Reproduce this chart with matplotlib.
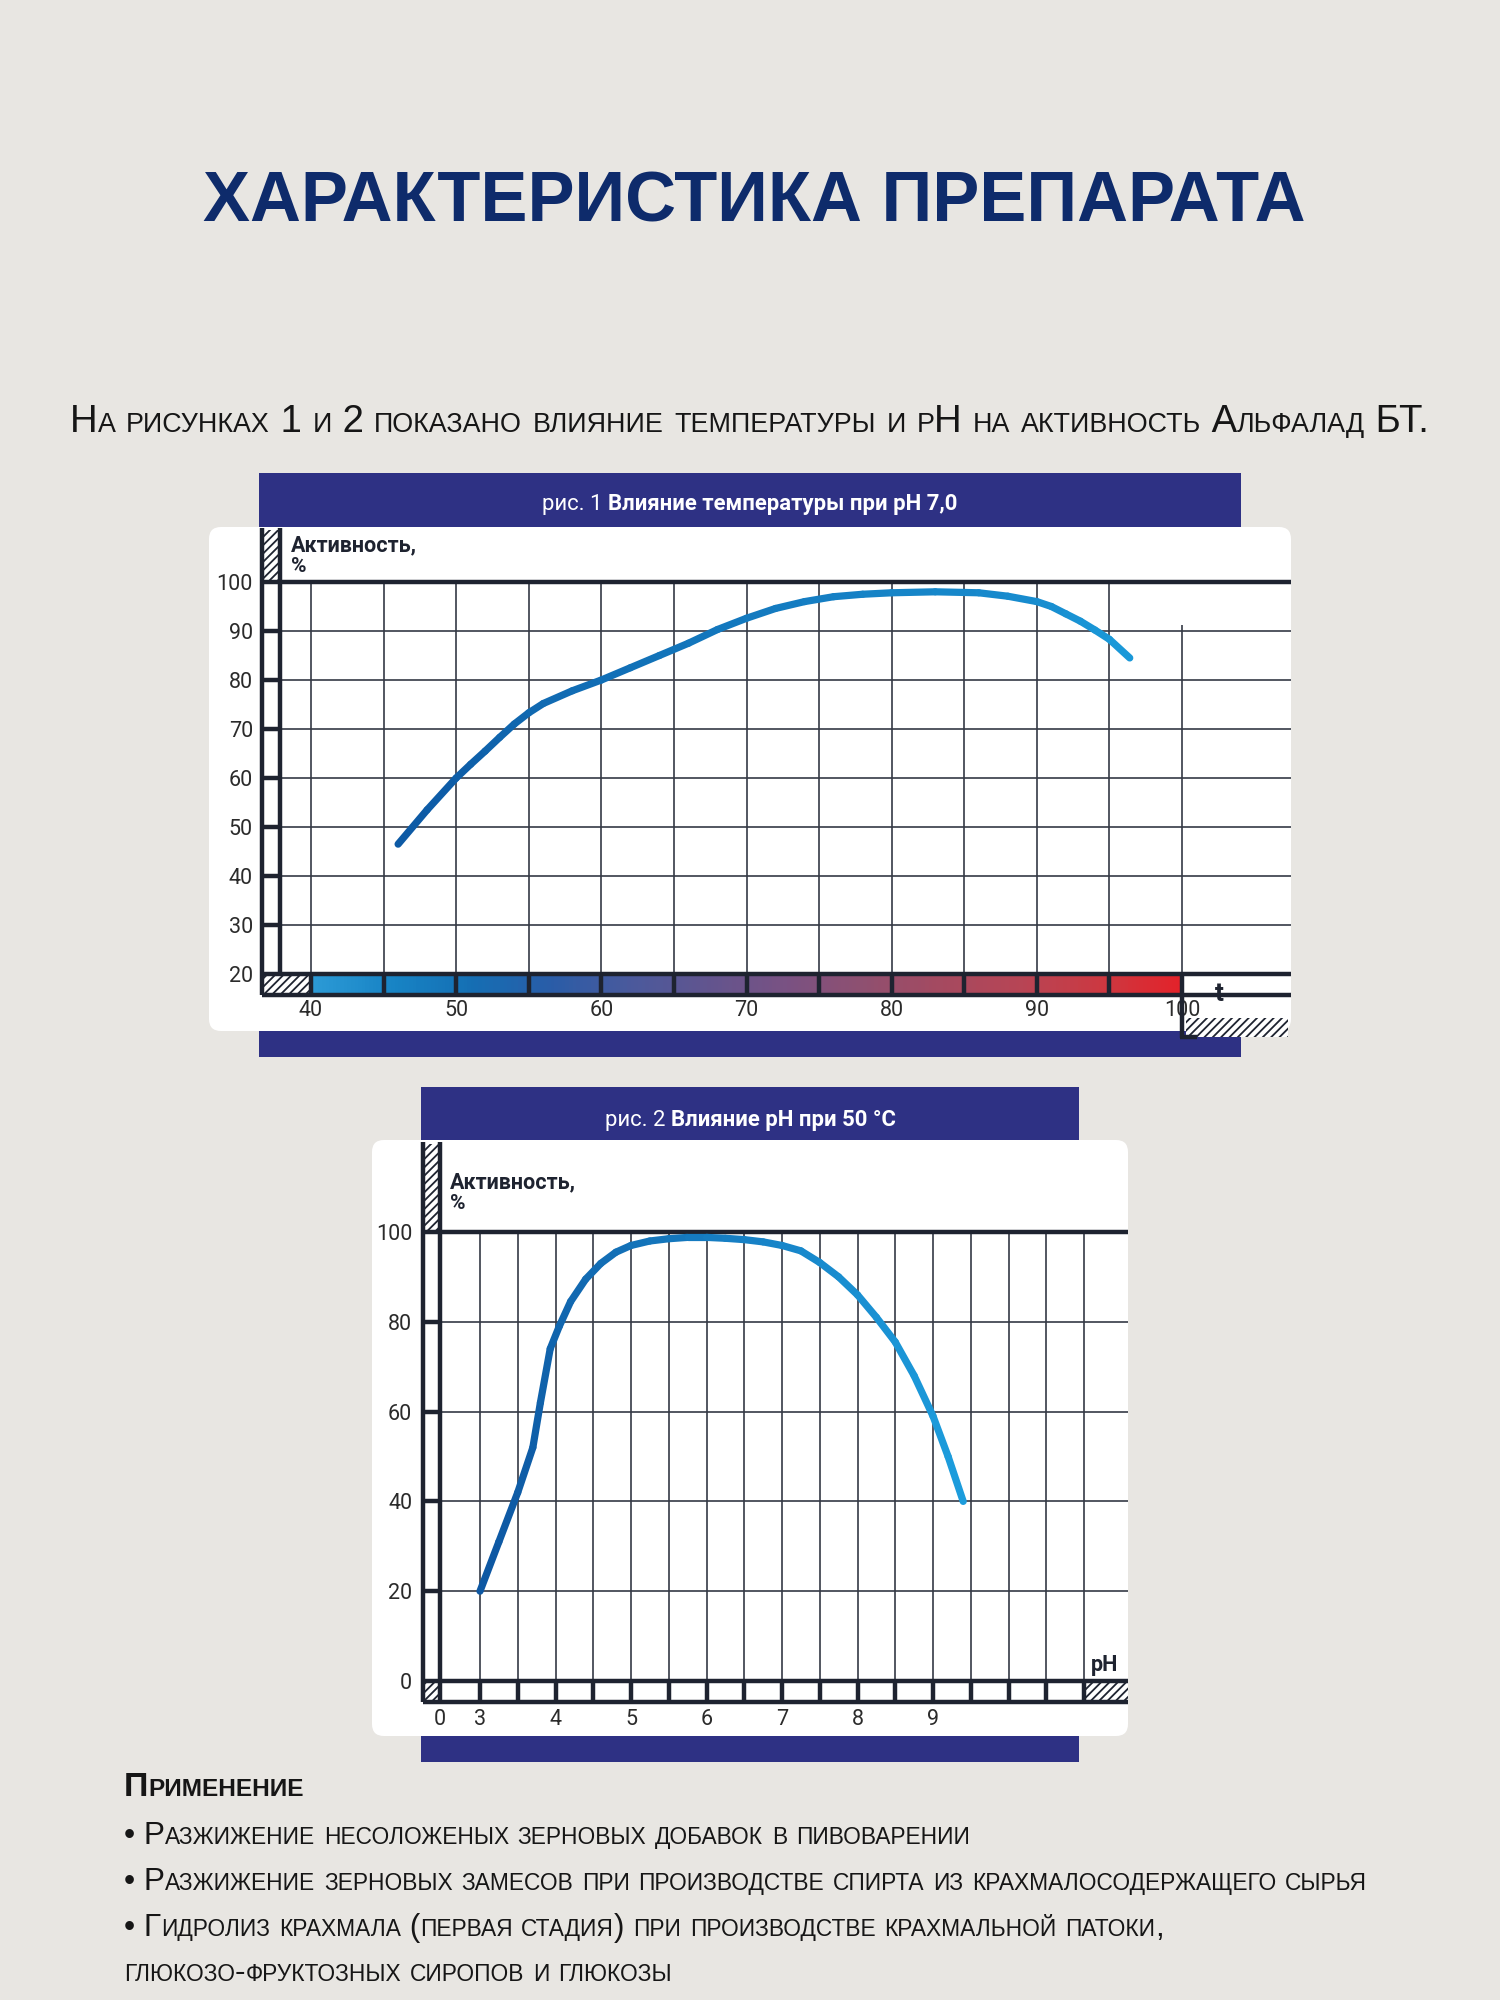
import matplotlib
matplotlib.use('Agg')
import matplotlib.pyplot as plt
import numpy as np
import matplotlib.transforms as mtransforms
from matplotlib import font_manager as fm
from matplotlib.font_manager import FontProperties
from matplotlib.patches import Rectangle, FancyBboxPatch
from matplotlib.collections import LineCollection
from matplotlib.colors import LinearSegmentedColormap

# ---- data ----
# fig. 1: activity vs temperature (pH 7.0)
temp_c = [46, 48, 50, 51, 52, 53, 54, 55, 56, 58, 60, 62, 64, 66, 68, 70, 72, 74, 76,
          78, 80, 83, 86, 88, 90, 91, 92, 93, 94, 95, 96.4]
temp_activity = [46.5, 53.5, 60, 62.8, 65.5, 68.3, 71, 73.3, 75.2, 77.8, 80, 82.5, 85, 87.5,
                 90.3, 92.6, 94.6, 96, 97, 97.5, 97.8, 98, 97.8, 97.1, 96, 95, 93.5, 92,
                 90.2, 88.3, 84.5]
temp_ticks = [40, 50, 60, 70, 80, 90, 100]
temp_grid = [40, 45, 50, 55, 60, 65, 70, 75, 80, 85, 90, 95, 100]
act_ticks1 = [20, 30, 40, 50, 60, 70, 80, 90, 100]
# colour of the temperature scale cells 40-45 ... 95-100
bar_colors = ['#2C9AD6', '#1884C5', '#156FB4', '#2A5DA8', '#4A5A9D', '#62558F',
              '#7A5283', '#905070', '#A64A60', '#B84555', '#CC3942', '#E4232B']

# fig. 2: activity vs pH (50 °C)
ph_values = [3.0, 3.25, 3.5, 3.7, 3.8, 3.93, 4.05, 4.2, 4.4, 4.6, 4.8, 5.0, 5.25, 5.5,
             5.75, 6.0, 6.25, 6.5, 6.75, 7.0, 7.25, 7.5, 7.75, 8.0, 8.25, 8.5, 8.75,
             9.0, 9.2, 9.4]
ph_activity = [20, 31, 42, 52, 62, 74, 79, 84.5, 89.5, 93, 95.5, 97, 98, 98.5, 98.8,
               98.8, 98.6, 98.3, 97.8, 97, 95.8, 93.2, 90, 86, 81, 75.5, 68, 59, 50, 40]
ph_ticks = [3, 4, 5, 6, 7, 8, 9]
ph_grid = [3, 3.5, 4, 4.5, 5, 5.5, 6, 6.5, 7, 7.5, 8, 8.5, 9, 9.5, 10, 10.5, 11]
act_ticks2 = [0, 20, 40, 60, 80, 100]

TITLE = 'ХАРАКТЕРИСТИКА ПРЕПАРАТА'
SUBTITLE = 'На рисунках 1 и 2 показано влияние температуры и pН на активность Альфалад БТ.'
HEAD1 = ('рис. 1 ', 'Влияние температуры при pH 7,0')
HEAD2 = ('рис. 2 ', 'Влияние pH при 50 °C')
USE_TITLE = 'Применение'
USE_LINES = ['• Разжижение несоложеных зерновых добавок в пивоварении',
             '• Разжижение зерновых замесов при производстве спирта из крахмалосодержащего сырья',
             '• Гидролиз крахмала (первая стадия) при производстве крахмальной патоки,',
             'глюкозо-фруктозных сиропов и глюкозы']

# ---- colours ----
BG = '#E8E6E2'
NAVY = '#2E3184'
TITLE_C = '#0E2B6B'
DARK = '#1E2330'
GRID = '#353945'
TXT = '#161616'

plt.rcParams['hatch.color'] = DARK
plt.rcParams['hatch.linewidth'] = 1.3

avail = {f.name for f in fm.fontManager.ttflist}
NARROW = [f for f in ['Liberation Sans Narrow', 'Liberation Sans'] if f in avail][:1] + ['DejaVu Sans']
GEO = ['Roboto', 'DejaVu Sans']

W, H = 1500, 2000
fig = plt.figure(figsize=(15, 20), dpi=100)
fig.patch.set_facecolor(BG)
bg = fig.add_axes([0, 0, 1, 1])
bg.set_xlim(0, W)
bg.set_ylim(H, 0)
bg.axis('off')
PX = bg.transData
renderer = fig.canvas.get_renderer()


def tw(s, fp):
    a = renderer.get_text_width_height_descent('|' + s + '|', fp, ismath=False)[0]
    b = renderer.get_text_width_height_descent('||', fp, ismath=False)[0]
    return a - b


def smallcaps(x, y, s, size, weight='normal', ratio=0.72, target=None):
    runs = []
    for ch in s:
        big = not ch.islower()
        t = ch if big else ch.upper()
        if runs and runs[-1][1] == big:
            runs[-1][0] += t
        else:
            runs.append([t, big])

    def fp(sz, big):
        return FontProperties(family=NARROW, weight=weight, size=sz if big else sz * ratio)
    if target:
        total = sum(tw(r, fp(size, b)) for r, b in runs)
        size = size * target / total
    cx = x
    for r, b in runs:
        p = fp(size, b)
        bg.text(cx, y, r, fontproperties=p, color=TXT, ha='left', va='baseline')
        cx += tw(r, p)
    return size


def add_ax(x0, y0, x1, y1):
    ax = fig.add_axes([x0 / W, 1 - y1 / H, (x1 - x0) / W, (y1 - y0) / H])
    ax.patch.set_alpha(0)
    for sp in ax.spines.values():
        sp.set_visible(False)
    return ax


def pline(ax, xs, ys, lw=3.2):
    ax.plot(xs, ys, color=DARK, lw=lw, transform=PX, clip_on=False, solid_capstyle='butt',
            zorder=4)


def hatchbox(ax, x, y, w, h):
    ax.add_patch(Rectangle((x, y), w, h, transform=PX, fc='white', ec=DARK, lw=0,
                           hatch='////', clip_on=False, zorder=2))


def header(cx, base, parts, size):
    fl = FontProperties(family=GEO, weight='normal', size=size)
    fb = FontProperties(family=GEO, weight='bold', size=size)
    wl, wb = tw(parts[0], fl), tw(parts[1], fb)
    x = cx - (wl + wb) / 2
    bg.text(x, base, parts[0], fontproperties=fl, color='white', va='baseline')
    bg.text(x + wl, base, parts[1], fontproperties=fb, color='white', va='baseline')


def gradient_line(ax, x, y, c0, c1, lw=5):
    pts = np.column_stack([x, y])
    segs = np.stack([pts[:-1], pts[1:]], axis=1)
    cmap = LinearSegmentedColormap.from_list('c', [c0, c1])
    cols = cmap(np.linspace(0, 1, len(segs)))
    ax.add_collection(LineCollection(segs, colors=cols, linewidths=lw,
                                     capstyle='round', joinstyle='round', zorder=5))


tick_fp = dict(family=GEO, weight='normal', size=15.5)
TICK_C = '#2B2B2B'

# ---- title and subtitle ----
fpt = FontProperties(family=NARROW, weight='bold', size=50)
tsize = 50 * 1104 / tw(TITLE, fpt)
bg.text(754, 221, TITLE, ha='center', va='baseline', color=TITLE_C,
        fontproperties=FontProperties(family=NARROW, weight='bold', size=tsize))
smallcaps(70, 432, SUBTITLE, 28, ratio=0.70, target=1359)

# ---- header font size ----
hs = 14 * 418 / (tw(HEAD1[0], FontProperties(family=GEO, weight='normal', size=14)) +
                 tw(HEAD1[1], FontProperties(family=GEO, weight='bold', size=14)))

# =============== chart 1 ===============
bg.add_patch(Rectangle((259, 473), 982, 584, fc=NAVY, lw=0))
bg.add_patch(FancyBboxPatch((209, 527), 1082, 504, boxstyle='round,pad=0,rounding_size=12',
                            fc='white', ec='none'))
header(750, 510, HEAD1, hs)

X40, X100 = 311, 1182
kx1 = (X100 - X40) / 60.0
ax1 = add_ax(280, 582, 1291, 974)
xl1 = (40 + (280 - X40) / kx1, 40 + (1291 - X40) / kx1)

ax1.hlines(act_ticks1[1:-1], xl1[0], xl1[1], color=GRID, lw=1.2)
ax1.vlines(temp_grid[:-1], 20, 100, color=GRID, lw=1.2)
ax1.vlines(temp_grid[-1], 20, 91.2, color=GRID, lw=1.2)
gradient_line(ax1, temp_c, temp_activity, '#0D5AA5', '#1A98D8', lw=5.2)

# top line and y ruler
pline(ax1, [262, 1291], [582, 582])
pline(ax1, [262, 262], [528, 995])
pline(ax1, [280, 280], [528, 974])
hatchbox(ax1, 263, 530, 16, 50)
ruler1 = mtransforms.blended_transform_factory(PX, ax1.transData)
ax1.hlines(act_ticks1[1:-1], 262, 280, transform=ruler1, color=DARK, lw=3.2, clip_on=False)

# temperature scale bar
bar1 = mtransforms.blended_transform_factory(ax1.transData, PX)
cmap_bar = LinearSegmentedColormap.from_list('bar', bar_colors)
ybot = 20 - (995 - 974) / ((974 - 582) / 80.0)
ax1.imshow(np.linspace(0, 1, 240)[None, :], cmap=cmap_bar, aspect='auto',
           extent=(temp_grid[0], temp_grid[-1], ybot, 20), clip_on=False, zorder=1)
hatchbox(ax1, 262, 976, X40 - 262, 17)
ax1.vlines(temp_grid, 974, 995, transform=bar1, color=DARK, lw=3.2, clip_on=False, zorder=3)
pline(ax1, [262, 1291], [974, 974])
pline(ax1, [262, 1291], [995, 995])
pline(ax1, [1182, 1182], [995, 1038])
pline(ax1, [1180, 1197], [1037, 1037])
hatchbox(ax1, 1186, 1018, 102, 19)
ax1.text(1219, 994, 't', transform=PX, ha='center', va='center', color=DARK,
         fontfamily=GEO, fontweight='bold', fontsize=19, zorder=6)
ax1.text(291, 551, 'Активность,', transform=PX, va='baseline', color=DARK,
         fontfamily=GEO, fontweight='bold', fontsize=15.5)
ax1.text(291, 572, '%', transform=PX, va='baseline', color=DARK,
         fontfamily=GEO, fontweight='bold', fontsize=15)

ax1.set_xticks(temp_ticks)
ax1.set_xticklabels([str(v) for v in temp_ticks], **tick_fp, color=TICK_C)
ax1.set_yticks(act_ticks1)
ax1.set_yticklabels([str(v) for v in act_ticks1], **tick_fp, color=TICK_C)
ax1.tick_params(axis='y', length=0, pad=19.5)
ax1.tick_params(axis='x', length=0, pad=19)
ax1.set_xlim(*xl1)
ax1.set_ylim(20, 100)

# =============== chart 2 ===============
bg.add_patch(Rectangle((421, 1087), 658, 675, fc=NAVY, lw=0))
bg.add_patch(FancyBboxPatch((372, 1140), 756, 596, boxstyle='round,pad=0,rounding_size=12',
                            fc='white', ec='none'))
header(750, 1126, HEAD2, hs)

P3, P11 = 480, 1084
kx2 = (P11 - P3) / 8.0
ax2 = add_ax(440, 1232, 1128, 1681)
xl2 = (3 + (440 - P3) / kx2, 3 + (1128 - P3) / kx2)

ax2.hlines(act_ticks2[1:-1], xl2[0], xl2[1], color=GRID, lw=1.2)
ax2.vlines(ph_grid, 0, 100, color=GRID, lw=1.2)
gradient_line(ax2, ph_values, ph_activity, '#0E58A3', '#1C9CDC', lw=5.2)

pline(ax2, [423, 1128], [1232, 1232])
pline(ax2, [423, 423], [1142, 1702])
pline(ax2, [440, 440], [1142, 1702])
hatchbox(ax2, 424, 1144, 15, 86)
ruler2 = mtransforms.blended_transform_factory(PX, ax2.transData)
ax2.hlines(act_ticks2[1:-1], 423, 440, transform=ruler2, color=DARK, lw=3.2, clip_on=False)

bar2 = mtransforms.blended_transform_factory(ax2.transData, PX)
hatchbox(ax2, 424, 1683, 15, 17)
hatchbox(ax2, P11, 1683, 1128 - P11, 17)
ax2.vlines(ph_grid, 1681, 1702, transform=bar2, color=DARK, lw=3.2, clip_on=False, zorder=3)
pline(ax2, [423, 1128], [1681, 1681])
pline(ax2, [423, 1128], [1702, 1702])
ax2.text(1105, 1665, 'pH', transform=PX, ha='center', va='center', color=DARK,
         fontfamily=GEO, fontweight='bold', fontsize=15.5)
ax2.text(450, 1188, 'Активность,', transform=PX, va='baseline', color=DARK,
         fontfamily=GEO, fontweight='bold', fontsize=15.5)
ax2.text(450, 1209, '%', transform=PX, va='baseline', color=DARK,
         fontfamily=GEO, fontweight='bold', fontsize=15)

ax2.set_xticks([xl2[0]] + ph_ticks)
ax2.set_xticklabels(['0'] + [str(v) for v in ph_ticks], **tick_fp, color=TICK_C)
ax2.set_yticks(act_ticks2)
ax2.set_yticklabels([str(v) for v in act_ticks2], **tick_fp, color=TICK_C)
ax2.tick_params(axis='y', length=0, pad=20)
ax2.tick_params(axis='x', length=0, pad=20.5)
ax2.set_xlim(*xl2)
ax2.set_ylim(0, 100)

# ---- application text ----
smallcaps(124, 1796, USE_TITLE, 26, weight='bold', ratio=0.72, target=180)
fs = smallcaps(124, 1890, USE_LINES[1], 26, ratio=0.72, target=1245)
smallcaps(124, 1844, USE_LINES[0], fs, ratio=0.72)
smallcaps(124, 1936, USE_LINES[2], fs, ratio=0.72)
smallcaps(124, 1981, USE_LINES[3], fs, ratio=0.72)

fig.savefig('out.png', dpi=100, facecolor=BG)
